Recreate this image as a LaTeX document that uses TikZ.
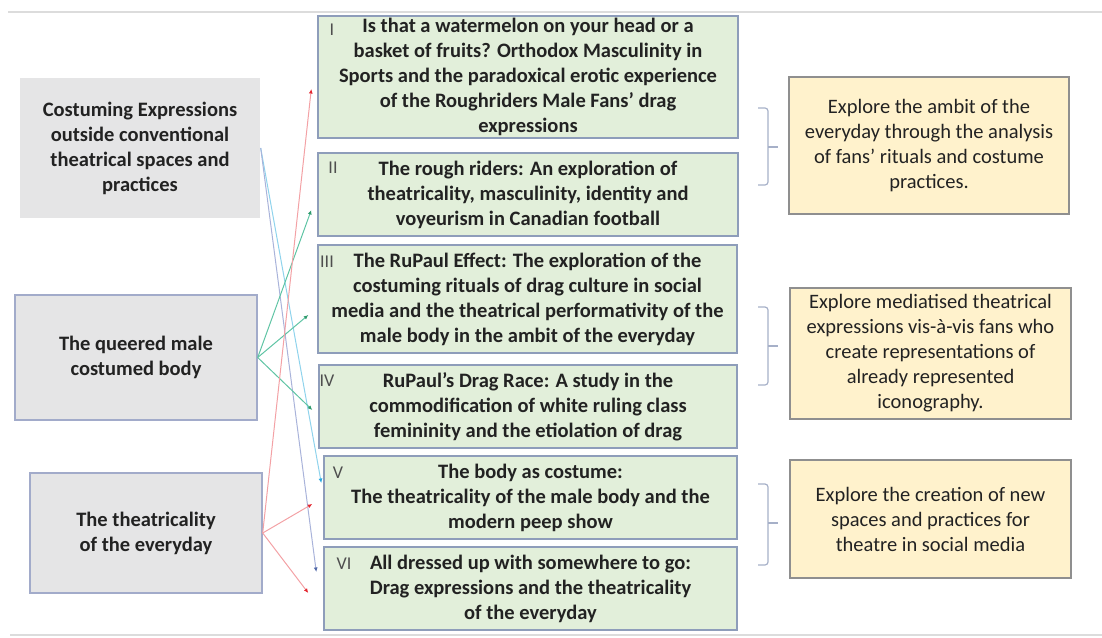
\documentclass[tikz,border=0pt]{standalone}
\usepackage{fontspec}
\setmainfont{Carlito}
\usetikzlibrary{arrows.meta}

\definecolor{boxgray}{HTML}{E5E5E6}
\definecolor{topicline}{HTML}{A2ABCA}
\definecolor{chapgreen}{HTML}{E2EFDA}
\definecolor{chapline}{HTML}{8E9DBA}
\definecolor{aimyellow}{HTML}{FFF2CC}
\definecolor{aimline}{HTML}{8F8F8F}
\definecolor{inktext}{HTML}{222222}
\definecolor{cyanline}{HTML}{8FD3EC}
\definecolor{cyantip}{HTML}{27A9E1}
\definecolor{blueline}{HTML}{A9B3DA}
\definecolor{bluetip}{HTML}{5068A8}
\definecolor{greenline}{HTML}{5FC4A4}
\definecolor{greentip}{HTML}{2E9A6C}
\definecolor{redline}{HTML}{F3A1A5}
\definecolor{redtip}{HTML}{E3262F}
\definecolor{ruleline}{HTML}{DCDCDC}
\definecolor{braceline}{HTML}{A6B0C8}

\begin{document}
\begin{tikzpicture}[x=1pt,y=-1pt,
  topic/.style={draw=topicline, line width=1.4pt, fill=boxgray, text=inktext, align=center, inner sep=0pt,
    font=\bfseries\fontsize{20.5}{25}\selectfont},
  chapter/.style={draw=chapline, line width=1.4pt, fill=chapgreen, text=inktext, align=center, inner sep=0pt,
    font=\bfseries\fontsize{20.5}{25}\selectfont},
  aim/.style={draw=aimline, line width=1.4pt, fill=aimyellow, text=inktext, align=center, inner sep=0pt,
    font=\fontsize{20.5}{25}\selectfont},
  numeral/.style={text=inktext!80, inner sep=0pt, font=\fontsize{18}{20}\selectfont},
  cyanlink/.style={draw=cyanline, line width=1pt, -{Latex[length=4.5pt,width=4pt,color=cyantip]}},
  bluelink/.style={draw=blueline, line width=1pt, -{Latex[length=4.5pt,width=4pt,color=bluetip]}},
  greenlink/.style={draw=greenline, line width=1pt, -{Latex[length=4.5pt,width=4pt,color=greentip]}},
  redlink/.style={draw=redline, line width=1pt, -{Latex[length=4.5pt,width=4pt,color=redtip]}},
  bracket/.style={draw=braceline, line width=1.2pt, rounded corners=3pt}]

\useasboundingbox (0,0) rectangle (1102,637);
\draw[ruleline, line width=1.5pt] (8,12) -- (1102,12);
\draw[ruleline, line width=1.5pt] (10,635) -- (1102,635);

\node[topic, draw=none, minimum width=240, minimum height=140] (a) at (140,148)
  {Costuming Expressions\\outside conventional\\theatrical spaces and\\practices};
\node[topic, minimum width=242, minimum height=125] (b) at (136,357.5)
  {The queered male\\costumed body};
\node[topic, minimum width=232, minimum height=120] (c) at (146,533)
  {The theatricality\\of the everyday};

\node[chapter, minimum width=420, minimum height=122] (1) at (528,77)
  {Is that a watermelon on your head or a\\basket of fruits? Orthodox Masculinity in\\Sports and the paradoxical erotic experience\\of the Roughriders Male Fans’ drag\\expressions};
\node[chapter, minimum width=420, minimum height=83] (2) at (528,194.5)
  {The rough riders: An exploration of\\theatricality, masculinity, identity and\\voyeurism in Canadian football};
\node[chapter, minimum width=419, minimum height=108] (3) at (527.5,299)
  {The RuPaul Effect: The exploration of the\\costuming rituals of drag culture in social\\media and the theatrical performativity of the\\male body in the ambit of the everyday};
\node[chapter, minimum width=418, minimum height=83] (4) at (528,406.5)
  {RuPaul’s Drag Race: A study in the\\commodification of white ruling class\\femininity and the etiolation of drag};
\node[chapter, minimum width=413, minimum height=83] (5) at (530.5,497.5)
  {The body as costume:\\The theatricality of the male body and the\\modern peep show};
\node[chapter, minimum width=413, minimum height=83] (6) at (530.5,588.5)
  {All dressed up with somewhere to go:\\Drag expressions and the theatricality\\of the everyday};

\node[numeral] (n1) at (332,30) {I};
\node[numeral] (n2) at (333,168) {II};
\node[numeral] (n3) at (327,262) {III};
\node[numeral] (n4) at (327,381) {IV};
\node[numeral] (n5) at (338,473) {V};
\node[numeral] (n6) at (344,564) {VI};

\node[aim, minimum width=280, minimum height=137] (e1) at (929,145.5)
  {Explore the ambit of the\\everyday through the analysis\\of fans’ rituals and costume\\practices.};
\node[aim, minimum width=281, minimum height=131] (e2) at (930.5,353.5)
  {Explore mediatised theatrical\\expressions vis-à-vis fans who\\create representations of\\already represented\\iconography.};
\node[aim, minimum width=281, minimum height=118] (e3) at (930.5,519)
  {Explore the creation of new\\spaces and practices for\\theatre in social media};

\path[bracket] (758,108) -- (768,108) -- (768,185) -- (758,185);
\path[bracket] (768,147) -- (778,147);
\path[bracket] (758,307) -- (768,307) -- (768,385) -- (758,385);
\path[bracket] (768,346) -- (778,346);
\path[bracket] (758,484) -- (768,484) -- (768,565) -- (758,565);
\path[bracket] (768,523) -- (778,523);

\path[cyanlink] (a.east) -- ([shift={(-2,-14.5)}]5.west);
\path[bluelink] (a.east) -- ([shift={(-7,-16.5)}]6.west);

\path[greenlink] (b.east) -- ([shift={(-6,15.5)}]2.west);
\path[greenlink] (b.east) -- ([shift={(-9,16)}]3.west);
\path[greenlink] (b.east) -- ([shift={(-6,3.5)}]4.west);

\path[redlink] (c.east) -- ([shift={(-6,12)}]1.west);
\path[redlink] (c.east) -- ([shift={(-11,6.5)}]5.west);
\path[redlink] (c.east) -- ([shift={(-15,4.5)}]6.west);
\end{tikzpicture}
\end{document}
